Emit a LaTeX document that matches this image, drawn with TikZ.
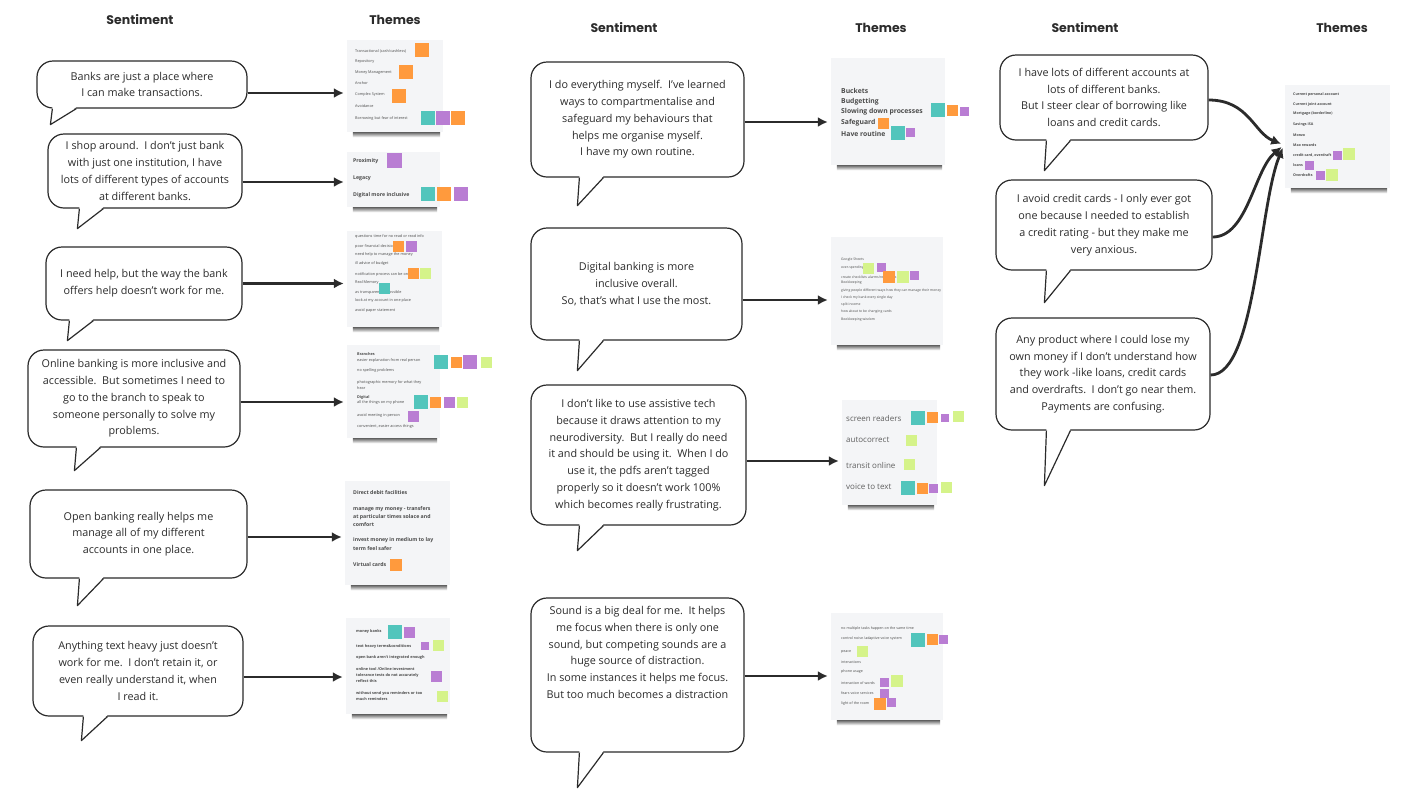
\documentclass[tikz,border=0pt]{standalone}
\usepackage{fontspec}
\setmainfont{Open Sans}
\newfontfamily\headfont{Poppins}
\usetikzlibrary{positioning,calc,arrows.meta}

\definecolor{tealsq}{HTML}{52C5BC}
\definecolor{orngsq}{HTML}{FF9A3D}
\definecolor{purpsq}{HTML}{B97DD3}
\definecolor{limesq}{HTML}{D5F38A}
\definecolor{cardbg}{HTML}{F4F5F7}
\definecolor{ink}{HTML}{2B2B2B}

\begin{document}
\begin{tikzpicture}[x=1pt,y=-1pt,
  head/.style={font=\headfont\bfseries\fontsize{12.5}{13}\selectfont, text=ink},
  bubble/.style={draw=ink, line width=1.2pt, rounded corners=16pt, fill=white, align=center, inner sep=2pt, font=\fontsize{10.8}{16.8}\selectfont, text=ink},
  btext/.style={align=center, inner sep=0pt, font=\fontsize{10.8}{16.8}\selectfont, text=ink},
  bubline/.style={draw=ink, line width=1.2pt, line join=round},
  card/.style={fill=cardbg, inner sep=0pt},
  ctext/.style={anchor=west, inner sep=0pt, text=ink!85, font=\fontsize{3.8}{4.5}\selectfont},
  cbold/.style={ctext, font=\fontsize{5.2}{6}\selectfont\bfseries},
  arr/.style={-{Latex[length=10pt,width=10pt]}, line width=2.8pt, draw=ink, shorten >=3pt},
]
\useasboundingbox (0,0) rectangle (1402,788);
\fill[white] (0,0) rectangle (1402,788);

% column heads
\node[head] (h1) at (140,20) {Sentiment};
\node[head] (h2) at (395,20) {Themes};
\node[head] (h3) at (624,28) {Sentiment};
\node[head] (h4) at (881,28) {Themes};
\node[head] (h5) at (1085,28) {Sentiment};
\node[head] (h6) at (1342,28) {Themes};

% sentiment bubbles
\node[bubble, minimum width=210, minimum height=47] (s1) at (142,84.5) {Banks are just a place where\\I can make transactions.};
\node[bubble, minimum width=194, minimum height=74] (s2) at (145,171) {I shop around.\ \ I don't just bank\\with just one institution, I have\\lots of different types of accounts\\at different banks.};
\node[bubble, minimum width=196, minimum height=73] (s3) at (144,283.5) {I need help, but the way the bank\\offers help doesn't work for me.};
\node[bubble, minimum width=212, minimum height=97] (s4) at (134,398.5) {Online banking is more inclusive and\\accessible.\ \ But sometimes I need to\\go to the branch to speak to\\someone personally to solve my\\problems.};
\node[bubble, minimum width=217, minimum height=88] (s5) at (138.5,534) {Open banking really helps me\\manage all of my different\\accounts in one place.};
\node[bubble, minimum width=210, minimum height=90] (s6) at (138,671) {Anything text heavy just doesn't\\work for me.\ \ I don't retain it, or\\even really understand it, when\\I read it.};

\node[bubble, minimum width=213, minimum height=115] (s7) at (637.5,119.5) {I do everything myself.\ \ I've learned\\ways to compartmentalise and\\safeguard my behaviours that\\helps me organise myself.\\I have my own routine.};
\node[bubble, minimum width=211, minimum height=112] (s8) at (636.5,284) {Digital banking is more\\inclusive overall.\\So, that's what I use the most.};
\node[bubble, minimum width=215, minimum height=140] (s9) at (638.5,455) {I don't like to use assistive tech\\because it draws attention to my\\neurodiversity.\ \ But I really do need\\it and should be using it.\ \ When I do\\use it, the pdfs aren't tagged\\properly so it doesn't work 100\%\\which becomes really frustrating.};
\node[bubble, minimum width=213, minimum height=154] (s10) at (637.5,675) {};
\node[btext] (s10t) at (637.5,652.5) {Sound is a big deal for me.\ \ It helps\\me focus when there is only one\\sound, but competing sounds are a\\huge source of distraction.\\In some instances it helps me focus.\\But too much becomes a distraction};

\node[bubble, minimum width=208, minimum height=85] (s11) at (1104,97.5) {I have lots of different accounts at\\lots of different banks.\\But I steer clear of borrowing like\\loans and credit cards.};
\node[bubble, minimum width=216, minimum height=90] (s12) at (1104,225) {I avoid credit cards - I only ever got\\one because I needed to establish\\a credit rating - but they make me\\very anxious.};
\node[bubble, minimum width=214, minimum height=112] (s13) at (1103,374) {Any product where I could lose my\\own money if I don't understand how\\they work -like loans, credit cards\\and overdrafts.\ \ I don't go near them.\\Payments are confusing.};

% speech tails
\foreach \b/\dx/\len in {s1/14/16, s2/30/20, s3/22/20, s4/47/23, s5/48/27, s6/49/24,
                         s7/47/28, s8/47/30, s9/47/25, s10/47/35, s11/45/30, s12/49/32, s13/49/55}{
  \fill[white] ($(\b.south west)+(\dx+2,-1.5)$) -- ($(\b.south west)+(\dx,\len)$) -- ($(\b.south west)+(\dx+26,-1.5)$) -- cycle;
  \draw[bubline] ($(\b.south west)+(\dx+2,0)$) -- ($(\b.south west)+(\dx,\len)$) -- ($(\b.south west)+(\dx+26,0)$);
}

% theme cards
\node[card, minimum width=96, minimum height=92] (c1) at (395,86) {};
\node[card, minimum width=93, minimum height=55] (c2) at (393.5,179.5) {};
\node[card, minimum width=95, minimum height=96] (c3) at (394.5,279) {};
\node[card, minimum width=93, minimum height=93] (c4) at (393.5,391.5) {};
\node[card, minimum width=105, minimum height=104] (c5) at (397.5,533) {};
\node[card, minimum width=104, minimum height=96] (c6) at (398,666) {};
\node[card, minimum width=114, minimum height=107] (c7) at (888,111.5) {};
\node[card, minimum width=112, minimum height=108] (c8) at (887,291) {};
\node[card, minimum width=95, minimum height=105] (c9) at (889.5,452.5) {};
\node[card, minimum width=112, minimum height=107] (c10) at (887,666.5) {};
\node[card, minimum width=105, minimum height=103] (c11) at (1337.5,136.5) {};
\foreach \c in {c1,c2,c3,c4,c5,c6,c7,c8,c9,c10,c11}
  \shade[top color=black!60, bottom color=white] ([xshift=6pt]\c.south west) rectangle ([xshift=-3pt,yshift=-5pt]\c.south east);

% card 1
\foreach \y/\t [count=\i] in {51/{Transactional (cash/cashless)}, 62/Repository, 73/{Money Management}, 83/Anchor,
    95/{Complex System}, 106/Avoidance, 118/{Borrowing but fear of interest}}
  \node[ctext] (c1-\i) at (355,\y) {\t};
% card 2
\foreach \y/\t [count=\i] in {161/Proximity, 178/Legacy, 195/{Digital more inclusive}}
  \node[cbold] (c2-\i) at (353,\y) {\t};
% card 3
\foreach \y/\t [count=\i] in {236/{questions time for no read or read info}, 246/{poor financial decisions},
    255/{need help to manage the money}, 263/{ill advice of budget}, 274/{notification process can be online},
    283/{Real Memory}, 293/{as transparent as possible}, 301/{look at my account in one place}, 311/{avoid paper statement}}
  \node[ctext] (c3-\i) at (355,\y) {\t};
% card 4
\foreach \y/\t [count=\i] in {354/{\bfseries Branches}, 360/{easier explanation from real person}, 371/{no spelling problems},
    382/{photographic memory for what they}, 388/hear, 398/{\bfseries Digital}, 403/{all the things on my phone},
    416/{avoid meeting in person}, 427/{convenient, easier access things}}
  \node[ctext] (c4-\i) at (357,\y) {\t};
% card 5
\foreach \y/\t [count=\i] in {493/{Direct debit facilities}, 509/{manage my money - transfers}, 517/{at particular times solace and},
    525/comfort, 540/{invest money in medium to lay}, 549/{term feel safer}, 565/{Virtual cards}}
  \node[cbold] (c5-\i) at (353,\y) {\t};
% card 6
\foreach \y/\t [count=\i] in {631/{money banks}, 646/{text heavy terms\&conditions}, 657/{open bank aren't integrated enough},
    669/{online tool /Online investment}, 675/{tolerance tests do not accurately}, 681/{reflect this},
    693/{without send you reminders or too}, 699/{much reminders}}
  \node[ctext, font=\fontsize{3.8}{4.5}\selectfont\bfseries] (c6-\i) at (356,\y) {\t};
% card 7
\foreach \y/\t [count=\i] in {91/Buckets, 102/Budgetting, 112/{Slowing down processes}, 123/Safeguard, 134/{Have routine}}
  \node[cbold, font=\fontsize{6.8}{7}\selectfont\bfseries] (c7-\i) at (841,\y) {\t};
% card 8
\foreach \y/\t [count=\i] in {260/{Google Sheets}, 268/over-spending, 277/{create checklists alarms/reminders}, 283/Bookkeeping,
    291/{giving people different ways how they can manage their money}, 298/{I check my bank every single day},
    305/{split income}, 312/{how about to be changing cards}, 320/{Bookkeeping wisdom}}
  \node[ctext, font=\fontsize{3.4}{4}\selectfont] (c8-\i) at (841,\y) {\t};
% card 9
\foreach \y/\t [count=\i] in {418/{screen readers}, 440/autocorrect, 465/{transit online}, 487/{voice to text}}
  \node[ctext, text=ink!75, font=\fontsize{8}{9}\selectfont] (c9-\i) at (846,\y) {\t};
% card 10
\foreach \y/\t [count=\i] in {629/{no multiple tasks happen on the same time}, 639/{control noise /adaptive voice system},
    652/peace, 662/interactions, 672/{phone usage}, 683/{interaction of words}, 693/{fears voice services}, 704/{light of the room}}
  \node[ctext, font=\fontsize{3.6}{4}\selectfont] (c10-\i) at (841,\y) {\t};
% card 11
\foreach \y/\t [count=\i] in {95/{Current personal account}, 105/{Current joint account}, 114/{Mortgage (borderline)},
    125/{Savings ISA}, 135/Monzo, 145/{Max rewards}, 155/{credit card, overdraft}, 165/loans, 175/Overdrafts}
  \node[ctext, font=\fontsize{3.6}{4}\selectfont\bfseries] (c11-\i) at (1293,\y) {\t};

% sticky squares
\foreach \col/\x/\y/\s in {orngsq/415/43/14, orngsq/399/65/14, orngsq/392/89/14, tealsq/421/111/14, purpsq/436/111/14, orngsq/451/111/14,
    purpsq/387/153/15, tealsq/421/187/14, orngsq/437/187/14, purpsq/454/187/14,
    orngsq/393/241/11, purpsq/406/241/11, orngsq/408/268/11, limesq/420/268/11, tealsq/379/283/11,
    tealsq/434/355/14, orngsq/451/357/11, purpsq/463/355/14, limesq/481/357/11,
    tealsq/414/395/14, orngsq/430/397/11, purpsq/444/397/11, limesq/457/397/11, purpsq/408/411/11,
    orngsq/390/559/12,
    tealsq/388/625/14, purpsq/404/627/11, purpsq/421/642/8, limesq/433/640/11, purpsq/431/671/11, limesq/437/691/11,
    tealsq/931/103/14, orngsq/947/105/11, purpsq/960/107/9, orngsq/878/118/11, tealsq/891/126/14, purpsq/906/128/9,
    limesq/863/263/11, purpsq/877/263/9, orngsq/883/271/12, limesq/897/271/12, purpsq/910/271/9,
    tealsq/911/411/14, orngsq/927/412/11, purpsq/941/414/8, limesq/953/411/11, limesq/906/435/11, limesq/904/459/11,
    tealsq/901/481/14, orngsq/917/483/11, purpsq/929/484/9, limesq/941/482/11,
    tealsq/911/633/14, orngsq/927/634/11, purpsq/939/635/9, limesq/857/646/11, purpsq/880/678/9, limesq/891/675/12,
    purpsq/880/689/9, orngsq/874/698/12, purpsq/887/698/9,
    purpsq/1333/151/9, limesq/1343/148/12, purpsq/1305/161/9, purpsq/1316/171/9, limesq/1326/169/12}
  \fill[\col] (\x,\y) rectangle ++(\s,\s);

% arrows
\foreach \s/\c/\dy in {s1/c1/8.5, s2/c2/11, s3/c3/0, s4/c4/3.5, s5/c5/3, s6/c6/6,
                       s7/c7/2.5, s8/c8/16, s9/c9/6, s10/c10/1}
  \draw[arr] ($(\s.east)+(0,\dy)$) coordinate (st) -- (st -| \c.west);

\coordinate (hub) at (1284,145);
\draw[arr] ($(s11.east)+(0,2.5)$) .. controls +(40,0) and +(-30,-12) .. (hub);
\draw[arr] ($(s12.east)+(0,12)$) .. controls +(35,0) and +(-30,25) .. (hub);
\draw[arr] ($(s13.east)+(0,1)$) .. controls +(45,0) and +(-25,60) .. (hub);
\end{tikzpicture}
\end{document}
